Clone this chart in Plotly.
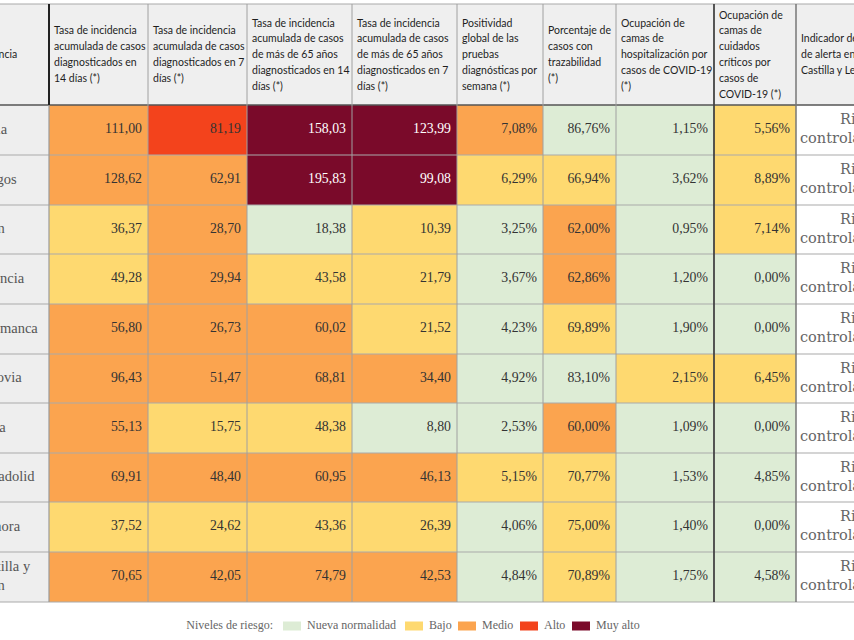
import plotly.graph_objects as go

# ---------------- data ----------------
provinces = ["Ávila", "Burgos", "León", "Palencia", "Salamanca", "Segovia",
             "Soria", "Valladolid", "Zamora", "Castilla y<br>León"]

headers = [
    ["Provincia"],
    ["Tasa de incidencia", "acumulada de casos", "diagnosticados en", "14 días (*)"],
    ["Tasa de incidencia", "acumulada de casos", "diagnosticados en 7", "días (*)"],
    ["Tasa de incidencia", "acumulada de casos", "de más de 65 años", "diagnosticados en 14", "días (*)"],
    ["Tasa de incidencia", "acumulada de casos", "de más de 65 años", "diagnosticados en 7", "días (*)"],
    ["Positividad", "global de las", "pruebas", "diagnósticas por", "semana (*)"],
    ["Porcentaje de", "casos con", "trazabilidad", "(*)"],
    ["Ocupación de", "camas de", "hospitalización por", "casos de COVID-19", "(*)"],
    ["Ocupación de", "camas de", "cuidados", "críticos por", "casos de", "COVID-19 (*)"],
    ["Indicador de nivel", "de alerta en", "Castilla y León"],
]

ia14 = [111.00, 128.62, 36.37, 49.28, 56.80, 96.43, 55.13, 69.91, 37.52, 70.65]
ia7 = [81.19, 62.91, 28.70, 29.94, 26.73, 51.47, 15.75, 48.40, 24.62, 42.05]
ia14_65 = [158.03, 195.83, 18.38, 43.58, 60.02, 68.81, 48.38, 60.95, 43.36, 74.79]
ia7_65 = [123.99, 99.08, 10.39, 21.79, 21.52, 34.40, 8.80, 46.13, 26.39, 42.53]
positividad = [7.08, 6.29, 3.25, 3.67, 4.23, 4.92, 2.53, 5.15, 4.06, 4.84]
trazabilidad = [86.76, 66.94, 62.00, 62.86, 69.89, 83.10, 60.00, 70.77, 75.00, 70.89]
hosp = [1.15, 3.62, 0.95, 1.20, 1.90, 2.15, 1.09, 1.53, 1.40, 1.75]
uci = [5.56, 8.89, 7.14, 0.00, 0.00, 6.45, 0.00, 4.85, 0.00, 4.58]
indicador = ["Riesgo controlado"] * 10

# risk level per cell: 0 Nueva normalidad, 1 Bajo, 2 Medio, 3 Alto, 4 Muy alto
lvl_ia14 = [2, 2, 1, 1, 2, 2, 2, 2, 1, 2]
lvl_ia7 = [3, 2, 2, 2, 2, 2, 1, 2, 1, 2]
lvl_ia14_65 = [4, 4, 0, 1, 2, 2, 1, 2, 1, 2]
lvl_ia7_65 = [4, 4, 1, 1, 1, 2, 0, 2, 1, 2]
lvl_positividad = [2, 1, 0, 0, 0, 0, 0, 1, 0, 0]
lvl_trazabilidad = [0, 1, 2, 2, 1, 0, 2, 1, 1, 1]
lvl_hosp = [0, 0, 0, 0, 0, 1, 0, 0, 0, 0]
lvl_uci = [1, 1, 1, 0, 0, 1, 0, 0, 0, 0]

level_names = ["Nueva normalidad", "Bajo", "Medio", "Alto", "Muy alto"]
level_colors = ["#ddecd5", "#fed970", "#fba44f", "#f3431c", "#7a0a2a"]

# ---------------- layout constants ----------------
col_edges = [49, 148, 247, 352, 457, 543, 616, 714, 796]
row_edges = [105, 155, 205, 254, 304, 354, 403, 453, 502, 552, 602]
header_top = 4
label_x = -25
indic_x1 = 840   # first word start
indic_x2 = 800   # second word start

values = [ia14, ia7, ia14_65, ia7_65, positividad, trazabilidad, hosp, uci]
levels = [lvl_ia14, lvl_ia7, lvl_ia14_65, lvl_ia7_65, lvl_positividad,
          lvl_trazabilidad, lvl_hosp, lvl_uci]
is_pct = [False, False, False, False, True, True, True, True]

nrows = len(provinces)
ncols = len(values)
row_centers = [(row_edges[i] + row_edges[i + 1]) / 2 for i in range(nrows)]

fig = go.Figure()

# colored cells
z = [[levels[c][r] for c in range(ncols)] for r in range(nrows)]
cs = []
n = len(level_colors)
for i, col in enumerate(level_colors):
    cs.append([i / n, col])
    cs.append([(i + 1) / n, col])
fig.add_trace(go.Heatmap(
    x=col_edges, y=row_edges, z=z, zmin=-0.5, zmax=n - 0.5,
    colorscale=cs, showscale=False, hoverinfo="skip"))

# numbers
tx, ty, tt, tc = [], [], [], []
for c in range(ncols):
    for r in range(nrows):
        v = values[c][r]
        s = f"{v:.2f}".replace(".", ",") + ("%" if is_pct[c] else "")
        tx.append(col_edges[c + 1] - 6)
        ty.append(row_centers[r])
        tt.append(s)
        tc.append("#ffffff" if levels[c][r] == 4 else "#333333")
fig.add_trace(go.Scatter(
    x=tx, y=ty, text=tt, mode="text", textposition="middle left",
    textfont=dict(family="Liberation Serif", size=13.8, color=tc),
    hoverinfo="skip", showlegend=False))

# province labels
fig.add_trace(go.Scatter(
    x=[label_x] * nrows, y=row_centers, text=provinces, mode="text",
    textposition="middle right",
    textfont=dict(family="Liberation Serif", size=14.5, color="#555555"),
    hoverinfo="skip", showlegend=False))

# indicator column (two lines)
w1 = [s.split(" ", 1)[0] for s in indicador]
w2 = [s.split(" ", 1)[1] for s in indicador]
fig.add_trace(go.Scatter(
    x=[indic_x1] * nrows, y=[c - 9.5 for c in row_centers], text=w1, mode="text",
    textposition="middle right",
    textfont=dict(family="DejaVu Serif", size=14.5, color="#666666"),
    hoverinfo="skip", showlegend=False))
fig.add_trace(go.Scatter(
    x=[indic_x2] * nrows, y=[c + 9.5 for c in row_centers], text=w2, mode="text",
    textposition="middle right",
    textfont=dict(family="DejaVu Serif", size=14.5, color="#666666"),
    hoverinfo="skip", showlegend=False))

# header text
hx, hy, ht = [], [], []
hstarts = [label_x] + [e + 5 for e in col_edges]
hcenter = 55.5
for j, lines in enumerate(headers):
    k = len(lines)
    for i, line in enumerate(lines):
        hx.append(hstarts[j])
        hy.append(hcenter + (i - (k - 1) / 2) * 15.8)
        ht.append(line)
fig.add_trace(go.Scatter(
    x=hx, y=hy, text=ht, mode="text", textposition="middle right",
    textfont=dict(family="Lato", size=10.5, color="#1e1e1e"),
    hoverinfo="skip", showlegend=False))

# legend
leg_y = 626
sw_x = [283, 405, 458, 520, 572]
fig.add_trace(go.Scatter(
    x=[273] + [s + 24 for s in sw_x], y=[leg_y] * (len(sw_x) + 1),
    text=["Niveles de riesgo:"] + level_names, mode="text",
    textposition=["middle left"] + ["middle right"] * len(sw_x),
    textfont=dict(family="Liberation Serif", size=12, color="#666666"),
    hoverinfo="skip", showlegend=False))

shapes = []
# backgrounds
shapes.append(dict(type="rect", xref="x", yref="y", x0=-20, x1=870,
                   y0=header_top, y1=row_edges[0], fillcolor="#efefef",
                   line=dict(width=0), layer="below"))
shapes.append(dict(type="rect", xref="x", yref="y", x0=-20, x1=col_edges[0],
                   y0=row_edges[0], y1=row_edges[-1], fillcolor="#eeeeee",
                   line=dict(width=0), layer="below"))
# horizontal lines
for y in row_edges[1:]:
    shapes.append(dict(type="line", xref="x", yref="y", x0=-20, x1=870, y0=y, y1=y,
                       line=dict(color="#a9a9a9", width=1.2)))
shapes.append(dict(type="line", xref="x", yref="y", x0=-20, x1=870,
                   y0=header_top, y1=header_top, line=dict(color="#a9a9a9", width=1)))
shapes.append(dict(type="line", xref="x", yref="y", x0=-20, x1=870,
                   y0=row_edges[0], y1=row_edges[0], line=dict(color="#555555", width=1.6)))
# vertical lines
for x in col_edges:
    if x == col_edges[0]:
        shapes.append(dict(type="line", xref="x", yref="y", x0=x, x1=x,
                           y0=header_top, y1=row_edges[0], line=dict(color="#222222", width=2)))
        shapes.append(dict(type="line", xref="x", yref="y", x0=x, x1=x,
                           y0=row_edges[0], y1=row_edges[-1], line=dict(color="#9a9a9a", width=1.2)))
    elif x == col_edges[-2]:
        shapes.append(dict(type="line", xref="x", yref="y", x0=x, x1=x,
                           y0=header_top, y1=row_edges[-1], line=dict(color="#444444", width=1.8)))
    elif x == col_edges[-1]:
        shapes.append(dict(type="line", xref="x", yref="y", x0=x, x1=x,
                           y0=header_top, y1=row_edges[-1], line=dict(color="#777777", width=1.5)))
    else:
        shapes.append(dict(type="line", xref="x", yref="y", x0=x, x1=x,
                           y0=header_top, y1=row_edges[-1], line=dict(color="#a0a0a0", width=1)))
# legend swatches
for sx, col in zip(sw_x, level_colors):
    shapes.append(dict(type="rect", xref="x", yref="y", x0=sx, x1=sx + 18,
                       y0=leg_y - 4.5, y1=leg_y + 4.5, fillcolor=col,
                       line=dict(width=0)))

fig.update_layout(
    width=854, height=640,
    margin=dict(l=0, r=0, t=0, b=0),
    paper_bgcolor="white", plot_bgcolor="white",
    xaxis=dict(range=[0, 854], visible=False, fixedrange=True),
    yaxis=dict(range=[640, 0], visible=False, fixedrange=True),
    shapes=shapes, showlegend=False,
)

fig.write_html("out.html", post_script="document.body.style.margin='0';",
               config={"displayModeBar": False})
